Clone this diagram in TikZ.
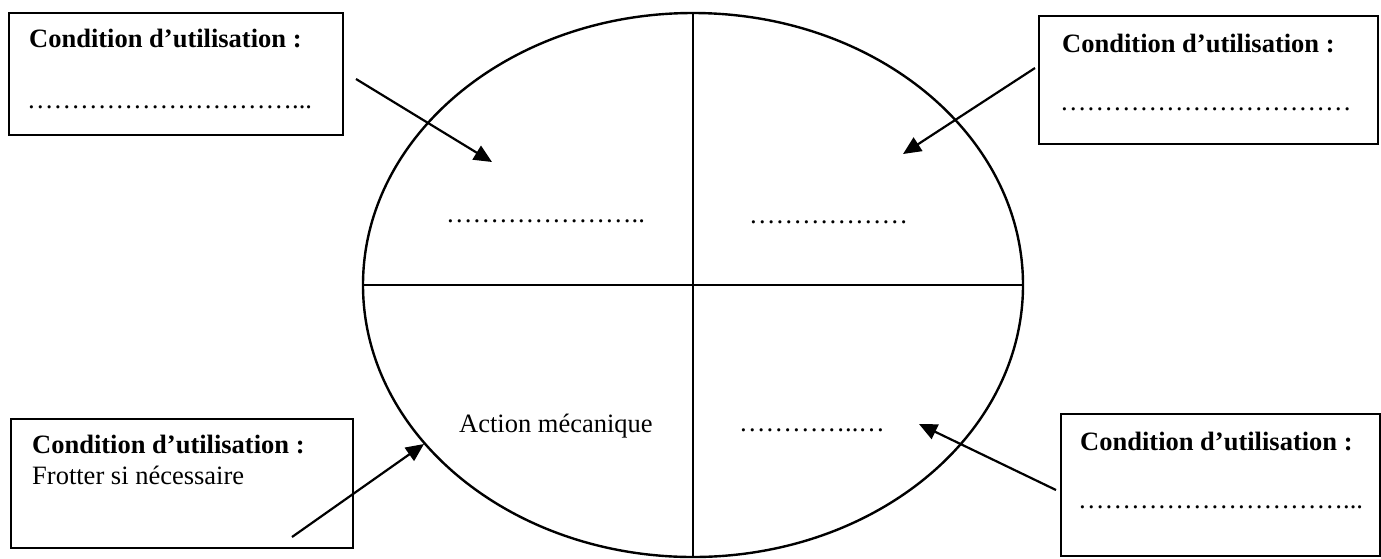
\documentclass[tikz,border=0pt]{standalone}
\usepackage{fontspec}
\setmainfont{Liberation Serif}
\usetikzlibrary{arrows.meta}

% n ellipsis characters in a row
\newcommand{\ellips}[1]{\foreach \k in {1,...,#1}{…}}

\begin{document}
\begin{tikzpicture}[x=1pt, y=-1pt, font=\fontsize{26.5}{31}\selectfont,
  box/.style={draw, line width=1.6pt, inner sep=0pt, anchor=north west},
  link/.style={line width=2.2pt, -{Triangle[length=18pt, width=16pt]}},
  txt/.style={anchor=base west, inner sep=0pt}]
  \useasboundingbox (0,0) rectangle (1381,558);
  % ellipse split into four parts
  \coordinate (O) at (693,285);
  \coordinate (N) at (693,13);
  \coordinate (S) at (693,557);
  \coordinate (W) at (363,285);
  \coordinate (E) at (1023,285);
  \draw[line width=2.4pt] (O) ellipse [x radius=330, y radius=272];
  \draw[line width=2.4pt] (N) -- (S);
  \draw[line width=2.4pt] (W) -- (E);
  \node[txt] (qtl) at (446,222) {\ellips{7}..};
  \node[txt] (qtr) at (749,223) {\ellips{6}};
  \node[txt] (qbl) at (459,432) {Action mécanique};
  \node[txt] (qbr) at (739,431) {\ellips{4}..…};
  % the four boxes
  \node[box, minimum width=334pt, minimum height=122pt] (tlbox) at (8,12) {};
  \node[box, minimum width=339pt, minimum height=128pt] (trbox) at (1038,15) {};
  \node[box, minimum width=342pt, minimum height=129pt] (blbox) at (10,418) {};
  \node[box, minimum width=319pt, minimum height=142pt] (brbox) at (1060,413) {};
  \node[txt] (tlhead) at (29,47) {\textbf{Condition d’utilisation :}};
  \node[txt] (tldots) at (27,108) {\ellips{10}...};
  \node[txt] (trhead) at (1062,52) {\textbf{Condition d’utilisation :}};
  \node[txt] (trdots) at (1060,110) {\ellips{11}};
  \node[txt] (blhead) at (32,453) {\textbf{Condition d’utilisation :}};
  \node[txt] (bltext) at (32,484) {Frotter si nécessaire};
  \node[txt] (brhead) at (1080,450) {\textbf{Condition d’utilisation :}};
  \node[txt] (brdots) at (1078,508) {\ellips{10}...};
  % arrows from the boxes into the ellipse
  \coordinate (tlfrom) at (356,79);
  \coordinate (tlto)   at (492,162);
  \coordinate (trfrom) at (1035,68);
  \coordinate (trto)   at (903,154);
  \coordinate (blfrom) at (292,537);
  \coordinate (blto)   at (424,444);
  \coordinate (brfrom) at (1056,490);
  \coordinate (brto)   at (919,424);
  \draw[link] (tlfrom) -- (tlto);
  \draw[link] (trfrom) -- (trto);
  \draw[link] (blfrom) -- (blto);
  \draw[link] (brfrom) -- (brto);
\end{tikzpicture}
\end{document}
